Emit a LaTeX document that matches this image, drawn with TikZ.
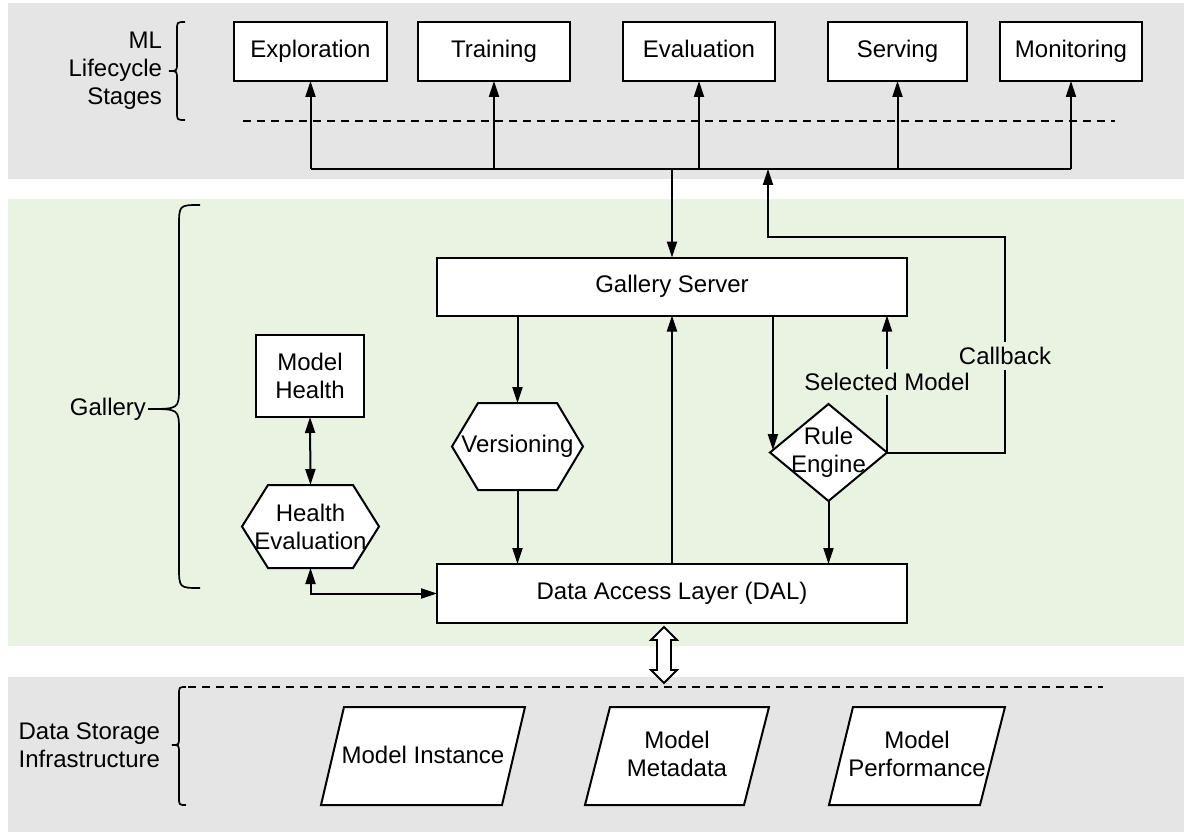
\documentclass[tikz,border=0pt]{standalone}
\usepackage{fontspec}
\setmainfont{Liberation Sans}
\usetikzlibrary{arrows.meta,calc}
\definecolor{bandgray}{RGB}{229,229,229}
\definecolor{bandgreen}{RGB}{234,242,226}
\newcommand\mybrace[7]{%
  \draw[bracel] (#1,#4) .. controls (#2,#4) .. (#2,#4+#7) -- (#2,#5-#7)
    .. controls (#2,#5) .. (#3,#5) .. controls (#2,#5) .. (#2,#5+#7)
    -- (#2,#6-#7) .. controls (#2,#6) .. (#1,#6);}
\begin{document}
\begin{tikzpicture}[x=1pt,y=-1pt,
  every node/.style={font=\fontsize{24}{28}\selectfont, inner sep=0pt, outer sep=0pt},
  box/.style={draw, fill=white, line width=2pt, rectangle, align=center},
  stagebox/.style={box, minimum height=59, text height=17pt, text depth=5pt},
  shapeline/.style={draw, fill=white, line width=2pt, line join=miter},
  conn/.style={line width=2pt, -{Triangle[length=16pt,width=10pt]}},
  bidir/.style={line width=2pt, {Triangle[length=16pt,width=10pt]}-{Triangle[length=16pt,width=10pt]}},
  wire/.style={line width=2pt},
  dashline/.style={line width=1.8pt, dash pattern=on 8pt off 6pt},
  bracel/.style={line width=1.7pt},
  lbl/.style={align=right},
  txt/.style={align=center},
]
\path[use as bounding box] (0,0) rectangle (1184,832);
\fill[white] (0,0) rectangle (1184,832);
\fill[bandgray] (8,3) rectangle (1184,179);
\fill[bandgreen] (8,199) rectangle (1184,646);
\fill[bandgray] (8,677) rectangle (1184,832);

% ---------- top band ----------
\node[lbl, anchor=east] (mllabel) at (162,71) {ML\\Lifecycle\\Stages};
\mybrace{185}{177}{169}{22}{71}{120}{8}
\draw[dashline] (243,121) -- (1115,121);

\node[stagebox, minimum width=153] (expl) at (310.5,51.5) {Exploration};
\node[stagebox, minimum width=152] (train) at (494,51.5) {Training};
\node[stagebox, minimum width=152] (eval) at (699,51.5) {Evaluation};
\node[stagebox, minimum width=139] (serv) at (897.5,51.5) {Serving};
\node[stagebox, minimum width=142] (mon) at (1071,51.5) {Monitoring};

\coordinate (busy) at (0,169);
\draw[wire] (expl.south |- busy) -- (mon.south |- busy);
\foreach \n in {expl,train,eval,serv,mon}
  \draw[conn] (\n.south |- busy) -- (\n.south);

% ---------- gallery ----------
\node[anchor=east] (gl) at (146,409) {Gallery};
\mybrace{200}{179}{148}{205}{409}{588}{22}

\node[box, minimum width=470, minimum height=58] (gs) at (672,286.5) {Gallery Server};
\node[box, minimum width=470, minimum height=59] (dal) at (672,593.5) {Data Access Layer (DAL)};

\draw[conn] (gs.north |- busy) -- (gs.north);
\draw[conn] (dal.north) -- (gs.south);

% Model health
\node[box, minimum width=108, minimum height=82] (mh) at (310,376) {Model\\Health};
\coordinate (hec) at (310.5,526.5);
\draw[shapeline] ($(hec)+(-68.5,0)$) -- ($(hec)+(-42.5,-41.5)$) -- ($(hec)+(42.5,-41.5)$)
  -- ($(hec)+(68.5,0)$) -- ($(hec)+(42.5,41.5)$) -- ($(hec)+(-42.5,41.5)$) -- cycle;
\node[txt, minimum width=137, minimum height=83] (he) at (hec) {Health\\Evaluation};
\draw[bidir] (mh.south) -- (he.north);
\draw[bidir] (he.south) |- (dal.west);

% Versioning
\coordinate (vec) at (517.5,446.5);
\draw[shapeline] ($(vec)+(-65.5,0)$) -- ($(vec)+(-39.5,-43.5)$) -- ($(vec)+(39.5,-43.5)$)
  -- ($(vec)+(65.5,0)$) -- ($(vec)+(39.5,43.5)$) -- ($(vec)+(-39.5,43.5)$) -- cycle;
\node[txt, minimum width=131, minimum height=87] (ver) at (vec) {Versioning};
\draw[conn] (gs.south -| ver.north) -- (ver.north);
\draw[conn] (ver.south) -- (dal.north -| ver.south);

% Rule engine
\coordinate (rec) at (828.5,452.5);
\draw[shapeline] ($(rec)+(-58.5,0)$) -- ($(rec)+(0,-48.5)$) -- ($(rec)+(58.5,0)$)
  -- ($(rec)+(0,48.5)$) -- cycle;
\node[txt, minimum width=117, minimum height=97] (re) at (rec) {Rule\\Engine};
\coordinate (retip) at ($(re.west)!0.05!(re.north)$);
\draw[conn] (gs.south -| retip) -- (retip);
\draw[conn] (re.south) -- (dal.north -| re.south);
\draw[conn] (re.east) -- (gs.south -| re.east);
\node[fill=bandgreen, inner xsep=1pt, inner ysep=4pt] (selm) at (887,382) {Selected Model};

% Callback
\coordinate (cb1) at (1005,237);
\coordinate (cb2) at (768,237);
\draw[conn] (re.east) -| (cb1) -- (cb2) -- (cb2 |- busy);
\node[fill=bandgreen, inner xsep=1pt, inner ysep=5pt] (cbl) at (1005,356) {Callback};

% ---------- storage ----------
\draw[dashline] (188,687) -- (1103,687);
\coordinate (dac) at (664,655);
\draw[shapeline, line width=1.8pt] ($(dac)+(0,-28)$) -- ($(dac)+(13,-15)$) -- ($(dac)+(7,-15)$)
  -- ($(dac)+(7,15)$) -- ($(dac)+(13,15)$) -- ($(dac)+(0,28)$) -- ($(dac)+(-13,15)$)
  -- ($(dac)+(-7,15)$) -- ($(dac)+(-7,-15)$) -- ($(dac)+(-13,-15)$) -- cycle;

\node[lbl, anchor=east] (dsl) at (160,745) {Data Storage\\Infrastructure};
\mybrace{186}{179}{172}{687}{745}{805}{8}

\draw[shapeline] (344,707) -- (525,707) -- (502,805) -- (321,805) -- cycle;
\node[txt] (mi) at (423,755) {Model Instance};
\draw[shapeline] (610,707) -- (769,707) -- (744,805) -- (585,805) -- cycle;
\node[txt] (mm) at (677,754) {Model\\Metadata};
\draw[shapeline] (853,707) -- (1005,707) -- (980,805) -- (829,805) -- cycle;
\node[txt] (mp) at (917,754) {Model\\Performance};
\end{tikzpicture}
\end{document}
